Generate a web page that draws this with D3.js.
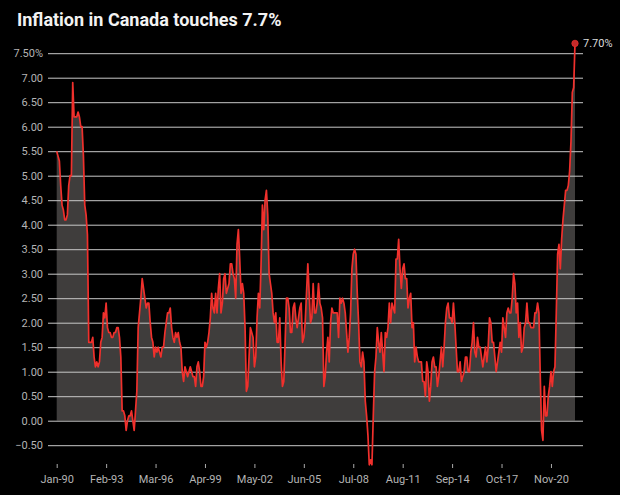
<!DOCTYPE html>
<html>
<head>
<meta charset="utf-8">
<script src="https://cdn.jsdelivr.net/npm/d3@7"></script>
<style>
  html, body { margin: 0; padding: 0; background: #000; }
  svg { display: block; font-family: Roboto, "Noto Sans", sans-serif; }
</style>
</head>
<body>
<svg id="chart" width="620" height="495"></svg>
<script>
// Monthly CPI year-over-year change (%), Jan 1990 – May 2022
const inflation = [
  5.5, 5.4, 5.3, 4.8, 4.4, 4.3, 4.1, 4.1, 4.2, 4.8, 5.0, 5.0,   // 1990
  6.9, 6.2, 6.2, 6.2, 6.3, 6.2, 6.0, 6.0, 5.4, 4.4, 4.2, 3.8,   // 1991
  1.6, 1.6, 1.6, 1.7, 1.3, 1.1, 1.2, 1.1, 1.2, 1.6, 1.7, 2.2,   // 1992
  2.1, 2.4, 1.9, 1.8, 1.8, 1.7, 1.7, 1.8, 1.8, 1.9, 1.9, 1.7,   // 1993
  1.3, 0.2, 0.2, 0.1, -0.2, 0.0, 0.1, 0.1, 0.2, 0.0, -0.2, 0.2, // 1994
  0.6, 1.9, 2.2, 2.5, 2.9, 2.7, 2.5, 2.3, 2.4, 2.4, 2.0, 1.7,   // 1995
  1.6, 1.3, 1.5, 1.4, 1.5, 1.4, 1.3, 1.5, 1.5, 1.8, 2.0, 2.2,   // 1996
  2.2, 2.3, 1.9, 1.7, 1.6, 1.8, 1.7, 1.8, 1.6, 1.5, 1.0, 0.8,   // 1997
  1.1, 1.0, 0.9, 1.0, 1.1, 1.0, 0.9, 0.9, 0.7, 1.1, 1.2, 1.0,   // 1998
  0.7, 0.7, 0.9, 1.6, 1.5, 1.6, 1.8, 2.1, 2.6, 2.3, 2.2, 2.6,   // 1999
  2.2, 2.7, 3.0, 2.2, 2.4, 2.9, 3.0, 2.6, 2.7, 2.8, 3.2, 3.2,   // 2000
  3.0, 2.9, 2.5, 3.6, 3.9, 3.3, 2.6, 2.8, 2.6, 1.9, 0.6, 0.7,   // 2001
  1.3, 1.9, 1.8, 1.7, 1.1, 1.3, 2.1, 2.6, 2.3, 3.2, 4.4, 3.9,   // 2002
  4.5, 4.7, 4.2, 3.0, 2.8, 2.6, 2.2, 2.0, 2.2, 1.6, 1.6, 2.1,   // 2003
  1.2, 0.7, 0.8, 1.6, 2.5, 2.5, 2.3, 1.8, 1.8, 2.3, 2.4, 2.1,   // 2004
  1.9, 2.1, 2.3, 2.4, 1.6, 1.7, 2.0, 2.6, 3.2, 2.6, 2.0, 2.1,   // 2005
  2.8, 2.2, 2.2, 2.4, 2.8, 2.4, 2.3, 2.1, 0.7, 0.9, 1.4, 1.7,   // 2006
  1.2, 2.0, 2.3, 2.2, 2.2, 2.2, 2.2, 1.7, 2.5, 2.4, 2.5, 2.4,   // 2007
  2.2, 1.8, 1.4, 1.7, 2.2, 3.1, 3.4, 3.5, 3.4, 2.6, 2.0, 1.2,   // 2008
  1.1, 1.4, 1.2, 0.4, 0.1, -0.3, -0.9, -0.8, -0.9, 0.1, 1.0, 1.3, // 2009
  1.9, 1.6, 1.4, 1.8, 1.4, 1.0, 1.8, 1.7, 1.9, 2.4, 2.0, 2.4,   // 2010
  2.3, 2.2, 3.3, 3.3, 3.7, 3.1, 2.7, 3.1, 3.2, 2.9, 2.9, 2.3,   // 2011
  2.5, 2.6, 1.9, 2.0, 1.2, 1.5, 1.3, 1.2, 1.2, 1.2, 0.8, 0.8,   // 2012
  0.5, 1.2, 1.0, 0.4, 0.7, 1.2, 1.3, 1.1, 1.1, 0.7, 0.9, 1.2,   // 2013
  1.5, 1.1, 1.5, 2.0, 2.3, 2.4, 2.1, 2.1, 2.0, 2.4, 2.0, 1.5,   // 2014
  1.0, 1.0, 1.2, 0.8, 0.9, 1.0, 1.3, 1.3, 1.0, 1.0, 1.4, 1.6,   // 2015
  2.0, 1.4, 1.3, 1.7, 1.5, 1.5, 1.3, 1.1, 1.3, 1.5, 1.2, 1.5,   // 2016
  2.1, 2.0, 1.6, 1.6, 1.3, 1.0, 1.2, 1.4, 1.6, 1.4, 2.1, 1.9,   // 2017
  1.7, 2.2, 2.3, 2.2, 2.2, 2.5, 3.0, 2.8, 2.2, 2.4, 1.7, 2.0,   // 2018
  1.4, 1.5, 1.9, 2.0, 2.4, 2.0, 2.0, 1.9, 1.9, 1.9, 2.2, 2.2,   // 2019
  2.4, 2.2, 0.9, -0.2, -0.4, 0.7, 0.1, 0.1, 0.5, 0.7, 1.0, 0.7, // 2020
  1.0, 1.1, 2.2, 3.4, 3.6, 3.1, 3.7, 4.1, 4.4, 4.7, 4.7, 4.8,   // 2021
  5.1, 5.7, 6.7, 6.8, 7.7                                        // 2022
];
const startYear = 1990;
const xTickLabels = ["Jan-90", "Feb-93", "Mar-96", "Apr-99", "May-02", "Jun-05",
                     "Jul-08", "Aug-11", "Sep-14", "Oct-17", "Nov-20"];
const xTickStep = 37; // months between labelled ticks
const yTickValues = [-0.5, 0, 0.5, 1, 1.5, 2, 2.5, 3, 3.5, 4, 4.5, 5, 5.5, 6, 6.5, 7, 7.5];
const titleText = "Inflation in Canada touches 7.7%";

const svg = d3.select("#chart");
const W = 620, H = 495;
svg.append("rect").attr("width", W).attr("height", H).attr("fill", "#000");

const x = d3.scaleLinear().domain([0, inflation.length - 1]).range([56.7, 575]);
const y = d3.scaleLinear().domain([-0.5, 7.5]).range([445.2, 53.2]);

// Title
svg.append("text")
  .attr("x", 17).attr("y", 26)
  .attr("fill", "#f2f2f2")
  .attr("font-size", 18).attr("font-weight", 700)
  .text(titleText);

// Area (only above zero)
svg.append("defs").append("clipPath").attr("id", "above0")
  .append("rect").attr("x", 0).attr("y", 0).attr("width", W).attr("height", y(0));

const area = d3.area()
  .x((d, i) => x(i))
  .y0(y(0))
  .y1(d => y(d));
svg.append("path")
  .datum(inflation)
  .attr("clip-path", "url(#above0)")
  .attr("fill", "#3f3d3c")
  .attr("d", area);

// Gridlines + y labels
const yAxis = d3.axisLeft(y)
  .tickValues(yTickValues)
  .tickSize(-(583 - 48))
  .tickPadding(5)
  .tickFormat(d => d === 7.5 ? d3.format(".2f")(d) + "%" : d3.format(".2f")(d));
const gy = svg.append("g").attr("transform", "translate(48,0)").call(yAxis);
gy.select(".domain").remove();
gy.selectAll(".tick line").attr("stroke", "#c8c8c8").attr("stroke-width", 1);
gy.selectAll(".tick text").attr("fill", "#b4b4b4").attr("font-size", 11)
  .attr("font-family", "Roboto, sans-serif");

// X axis
const xTicks = xTickLabels.map((l, i) => i * xTickStep);
const xAxis = d3.axisBottom(x)
  .tickValues(xTicks)
  .tickSize(4)
  .tickPadding(7)
  .tickFormat((d, i) => xTickLabels[i]);
const gx = svg.append("g").attr("transform", "translate(0,464)").call(xAxis);
gx.select(".domain").remove();
gx.selectAll(".tick line").attr("stroke", "#aaa");
gx.selectAll(".tick text").attr("fill", "#b4b4b4").attr("font-size", 11)
  .attr("font-family", "Roboto, sans-serif");

// Line
const line = d3.line().x((d, i) => x(i)).y(d => y(d));
svg.append("path")
  .datum(inflation)
  .attr("fill", "none")
  .attr("stroke", "#f0302c")
  .attr("stroke-width", 1.7)
  .attr("stroke-linejoin", "round")
  .attr("d", line);

// Last point marker and label
const last = inflation.length - 1;
svg.append("circle")
  .attr("cx", x(last)).attr("cy", y(inflation[last]))
  .attr("r", 3.2)
  .attr("fill", "#c42a2a")
  .attr("stroke", "#e0302c").attr("stroke-width", 0.8);
svg.append("text")
  .attr("x", x(last) + 8).attr("y", y(inflation[last]) + 4)
  .attr("fill", "#dcdcdc").attr("font-size", 11)
  .text(d3.format(".2f")(inflation[last]) + "%");
</script>
</body>
</html>
